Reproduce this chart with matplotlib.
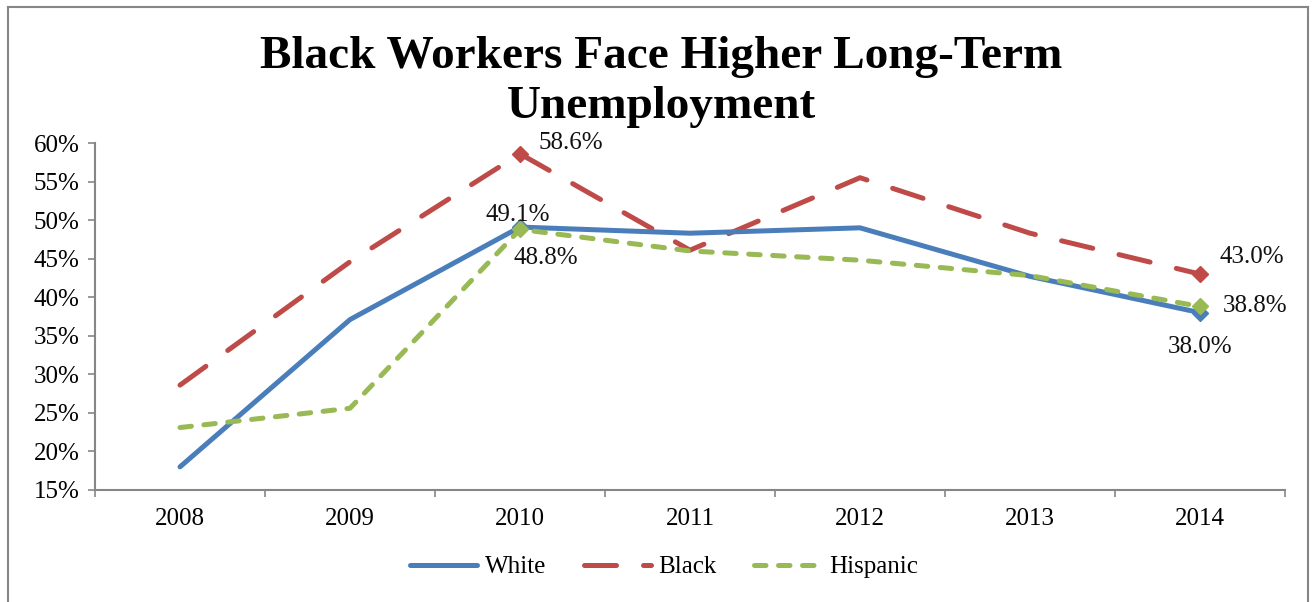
import matplotlib
matplotlib.use("Agg")
import matplotlib.pyplot as plt
from matplotlib.lines import Line2D

years = ["2008", "2009", "2010", "2011", "2012", "2013", "2014"]
white = [18.0, 37.1, 49.1, 48.3, 49.0, 42.7, 38.0]
black = [28.6, 44.6, 58.6, 46.1, 55.5, 48.3, 43.0]
hispanic = [23.1, 25.6, 48.8, 46.0, 44.8, 42.8, 38.8]
y_ticks = [15, 20, 25, 30, 35, 40, 45, 50, 55, 60]

BLUE = "#4A7EBB"
RED = "#BE4B48"
GREEN = "#98B954"
GRAY = "#868686"
FONT = "Liberation Serif"

plt.rcParams["font.family"] = [FONT, "DejaVu Serif"]

fig = plt.figure(figsize=(13.14, 6.02), dpi=100)
ax = fig.add_axes([95 / 1314, 1 - 490 / 602, (1285 - 95) / 1314, (490 - 143) / 602])

x = list(range(len(years)))
lw = 3.6
ax.plot(x, white, color=BLUE, lw=lw, solid_capstyle="round", solid_joinstyle="round",
        marker="D", markersize=8, markevery=[2, 6], label="White", zorder=3)
ax.plot(x, black, color=RED, lw=lw, dashes=(6.4, 5.4), dash_capstyle="round",
        marker="D", markersize=8, markevery=[2, 6], label="Black", zorder=2)
ax.plot(x, hispanic, color=GREEN, lw=lw, dashes=(2.3, 2.5), dash_capstyle="round",
        marker="D", markersize=8, markevery=[2, 6], label="Hispanic", zorder=4)

fs = 18
# value labels
def label(i, series, dx, dy, ha="center"):
    ax.annotate(f"{series[i]:.1f}%", (i, series[i]), xytext=(dx, dy),
                textcoords="offset pixels", ha=ha, va="center", fontsize=fs,
                color="#111111")

label(2, black, 18, 11, ha="left")
label(2, white, -2, 12)
label(2, hispanic, 26, -29)
label(6, black, 20, 17, ha="left")
label(6, hispanic, 23, 0, ha="left")
label(6, white, 0, -34)

ax.set_xlim(-0.5, 6.5)
ax.set_ylim(15, 60)
ax.set_yticks(y_ticks)
ax.set_yticklabels([f"{v}%" for v in y_ticks], fontsize=fs)
ax.set_xticks(x)
ax.set_xticklabels(years, fontsize=fs)
ax.set_xticks([i - 0.5 for i in range(len(years) + 1)], minor=True)
ax.tick_params(axis="x", which="major", length=0, pad=13)
ax.tick_params(axis="x", which="minor", length=5, width=1.2, color=GRAY, direction="out")
ax.tick_params(axis="y", length=5, width=1.2, color=GRAY, pad=6)
for side in ("top", "right"):
    ax.spines[side].set_visible(False)
for side in ("left", "bottom"):
    ax.spines[side].set_color(GRAY)
    ax.spines[side].set_linewidth(1.5)

fig.text(661 / 1314, 1 - 82 / 602, "Black Workers Face Higher Long-Term\nUnemployment",
         ha="center", va="center", fontsize=34, fontweight="bold", linespacing=1.22)

leg = fig.legend(loc="center", bbox_to_anchor=(664 / 1314, 1 - 567 / 602), ncol=3,
                 frameon=False, fontsize=fs, handlelength=2.7, columnspacing=1.5,
                 handletextpad=0.3)
for h in leg.legend_handles:
    h.set_marker("")

# outer chart frame
for xs, ys in [((8, 8), (602, 7)), ((8, 1308), (7, 7)), ((1308, 1308), (7, 602))]:
    fig.add_artist(Line2D([v / 1314 for v in xs], [1 - v / 602 for v in ys],
                          color=GRAY, lw=1.5, transform=fig.transFigure))

fig.savefig("out.png", dpi=100)
